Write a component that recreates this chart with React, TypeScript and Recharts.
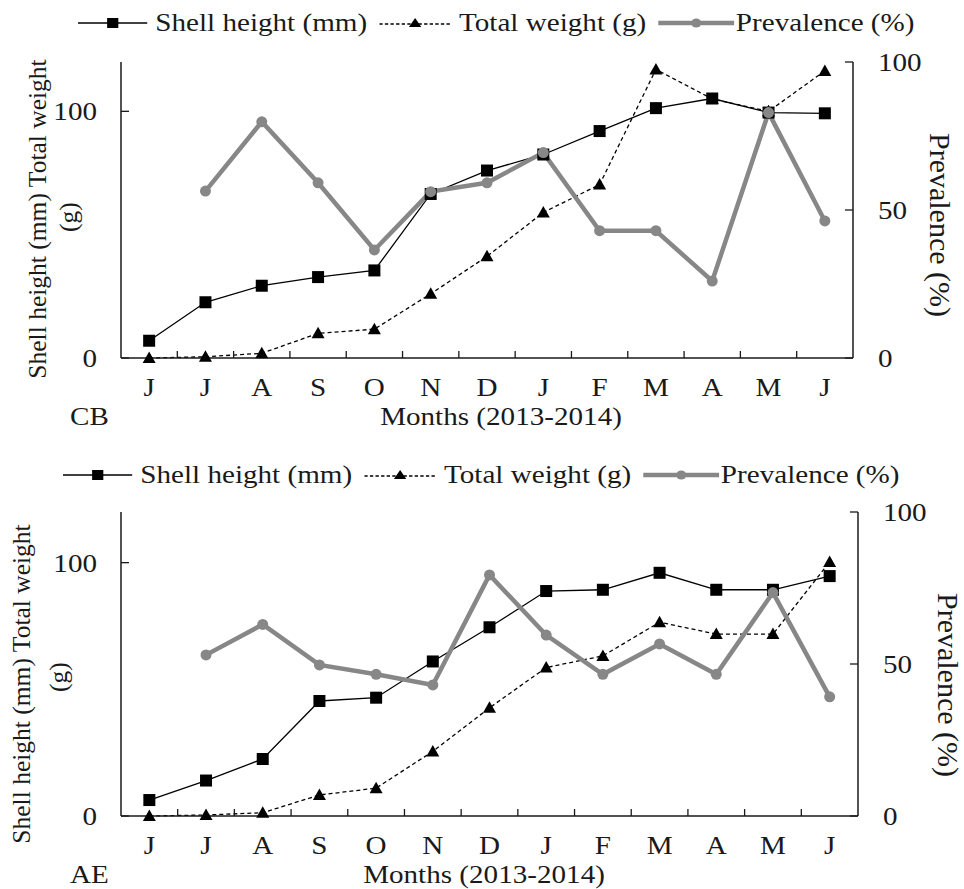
import { ComposedChart, Line, XAxis, YAxis, Label } from "recharts";

// months Jun 2013 .. Jun 2014
const MONTHS = ["J", "J", "A", "S", "O", "N", "D", "J", "F", "M", "A", "M", "J"];

// CB site
const CB_SHELL = [7, 22.6, 29.3, 32.8, 35.5, 66.5, 76, 82.5, 92, 101.3, 105.2, 99.5, 99.2];
const CB_WEIGHT = [0, 0.5, 1.9, 10, 11.7, 26, 41.2, 59, 70.3, 117, 105, 100, 116.4];
const CB_PREV = [null, 56.4, 79.8, 59.2, 36.5, 56.2, 59.2, 69.4, 43, 43, 26, 82.9, 46.3];

// AE site
const AE_SHELL = [6.3, 14, 22.5, 45.4, 46.7, 61, 74.5, 88.8, 89.3, 96, 89.3, 89.3, 94.7];
const AE_WEIGHT = [0, 0.4, 1.3, 8.3, 11, 25.5, 42.7, 58.6, 63.2, 76.5, 71.8, 71.8, 100.3];
const AE_PREV = [null, 53, 63, 49.7, 46.6, 43.1, 79.3, 59.5, 46.6, 56.6, 46.6, 73.5, 39.2];

const LEFT_TICKS = [0, 100];
const RIGHT_TICKS = [0, 50, 100];

const SERIF = '"Liberation Serif", "Times New Roman", serif';
const INK = "#1a1a1a";
const GREY = "#878787";
const SX = 1.12; // the original figure is a bit stretched sideways

function squareDot(p: any) {
  const { cx, cy, index } = p;
  if (cx == null || cy == null) return <g key={`s${index}`} />;
  return <rect key={`s${index}`} x={cx - 6} y={cy - 6} width={12} height={12} fill="#000" />;
}

function triangleDot(p: any) {
  const { cx, cy, index } = p;
  if (cx == null || cy == null) return <g key={`t${index}`} />;
  return (
    <path
      key={`t${index}`}
      d={`M${cx},${cy - 6.5} L${cx + 6.5},${cy + 5} L${cx - 6.5},${cy + 5} Z`}
      fill="#000"
    />
  );
}

function circleDot(p: any) {
  const { cx, cy, index } = p;
  if (cx == null || cy == null) return <g key={`c${index}`} />;
  return <circle key={`c${index}`} cx={cx} cy={cy} r={5.5} fill={GREY} />;
}

function MonthTick(props: any) {
  const { x, y, payload, index } = props;
  const half = payload?.offset || 28;
  return (
    <g>
      {index > 0 && (
        <line x1={x - half} x2={x - half} y1={y} y2={y - 7} stroke={INK} strokeWidth={1.3} />
      )}
      <text
        transform={`translate(${x},${y + 38}) scale(${SX},1)`}
        textAnchor="middle"
        fontSize={26}
        fontFamily={SERIF}
        fill={INK}
      >
        {MONTHS[payload.value]}
      </text>
    </g>
  );
}

function LeftTick(props: any) {
  const { x, y, payload } = props;
  return (
    <g>
      <line x1={x} x2={x + 8} y1={y} y2={y} stroke={INK} strokeWidth={1.3} />
      <text
        transform={`translate(${x - 24},${y + 9}) scale(${SX},1)`}
        textAnchor="end"
        fontSize={26}
        fontFamily={SERIF}
        fill={INK}
      >
        {payload.value}
      </text>
    </g>
  );
}

function RightTick(props: any) {
  const { x, y, payload } = props;
  return (
    <g>
      <line x1={x - 8} x2={x} y1={y} y2={y} stroke={INK} strokeWidth={1.3} />
      <text
        transform={`translate(${x + 25},${y + 9}) scale(${SX},1)`}
        textAnchor="start"
        fontSize={26}
        fontFamily={SERIF}
        fill={INK}
      >
        {payload.value}
      </text>
    </g>
  );
}

function ChartLegend({ left, top }: { left: number; top: number }) {
  const text = { marginLeft: 7, marginRight: 11 };
  return (
    <div
      style={{
        position: "absolute",
        left,
        top,
        display: "flex",
        alignItems: "center",
        fontFamily: SERIF,
        fontSize: 26,
        lineHeight: "30px",
        color: INK,
        whiteSpace: "nowrap",
        transform: `scaleX(${SX})`,
        transformOrigin: "left center",
      }}
    >
      <svg width={62} height={20}>
        <line x1={0} x2={62} y1={10} y2={10} stroke="#000" strokeWidth={1.5} />
        <rect x={26} y={5} width={10} height={10} fill="#000" />
      </svg>
      <span style={text}>Shell height (mm)</span>
      <svg width={64} height={20}>
        <line x1={0} x2={64} y1={11} y2={11} stroke="#000" strokeWidth={1.3} strokeDasharray="3 2" />
        <path d="M32,5 L37.5,14 L26.5,14 Z" fill="#000" />
      </svg>
      <span style={text}>Total weight (g)</span>
      <svg width={68} height={20}>
        <line x1={0} x2={68} y1={10} y2={10} stroke={GREY} strokeWidth={4.5} />
        <circle cx={34} cy={10} r={4.5} fill={GREY} />
      </svg>
      <span style={{ marginLeft: 1 }}>Prevalence (%)</span>
    </div>
  );
}

interface PanelCfg {
  site: string;
  shell: number[];
  weight: number[];
  prev: (number | null)[];
  top: number;
  right: number;
  bottom: number;
  legendLeft: number;
  legendTop: number;
  monthsX: number;
  left1: [number, number];
  left2: [number, number];
  rightTitle: [number, number];
}

function Panel({ cfg }: { cfg: PanelCfg }) {
  const rows = MONTHS.map((m, i) => ({
    idx: i,
    month: m,
    shell: cfg.shell[i],
    weight: cfg.weight[i],
    prev: cfg.prev[i],
  }));
  const axisLine = { stroke: INK, strokeWidth: 1.5 };

  return (
    <div style={{ position: "absolute", left: 0, top: cfg.top, width: 964, height: 440 }}>
      <ComposedChart
        width={964}
        height={440}
        data={rows}
        margin={{ top: 62, right: cfg.right, bottom: cfg.bottom, left: 61 }}
      >
        <XAxis
          dataKey="idx"
          type="category"
          scale="band"
          height={30}
          interval={0}
          tickLine={false}
          tickSize={0}
          tickMargin={0}
          axisLine={axisLine}
          tick={(p: any) => <MonthTick {...p} />}
        >
          <Label
            content={(p: any) => {
              const base = (p.viewBox?.y ?? 0) + 67;
              return (
                <g fontFamily={SERIF} fontSize={26} fill={INK}>
                  <text transform={`translate(70,${base}) scale(${SX},1)`}>{cfg.site}</text>
                  <text transform={`translate(${cfg.monthsX},${base}) scale(${SX},1)`} textAnchor="middle">
                    Months (2013-2014)
                  </text>
                </g>
              );
            }}
          />
        </XAxis>
        <YAxis
          yAxisId="left"
          orientation="left"
          width={60}
          domain={[0, 120]}
          ticks={LEFT_TICKS}
          interval={0}
          tickLine={false}
          tickSize={0}
          tickMargin={0}
          axisLine={axisLine}
          tick={(p: any) => <LeftTick {...p} />}
        >
          <Label
            content={() => (
              <g fontFamily={SERIF} fontSize={25.5} fill={INK} textAnchor="middle">
                <text
                  x={cfg.left1[0]}
                  y={cfg.left1[1]}
                  transform={`rotate(-90 ${cfg.left1[0]} ${cfg.left1[1]})`}
                >
                  Shell height (mm) Total weight
                </text>
                <text
                  x={cfg.left2[0]}
                  y={cfg.left2[1]}
                  transform={`rotate(-90 ${cfg.left2[0]} ${cfg.left2[1]})`}
                >
                  (g)
                </text>
              </g>
            )}
          />
        </YAxis>
        <YAxis
          yAxisId="right"
          orientation="right"
          width={60}
          domain={[0, 100]}
          ticks={RIGHT_TICKS}
          interval={0}
          tickLine={false}
          tickSize={0}
          tickMargin={0}
          axisLine={axisLine}
          tick={(p: any) => <RightTick {...p} />}
        >
          <Label
            content={() => (
              <text
                x={cfg.rightTitle[0]}
                y={cfg.rightTitle[1]}
                transform={`rotate(90 ${cfg.rightTitle[0]} ${cfg.rightTitle[1]})`}
                textAnchor="middle"
                fontFamily={SERIF}
                fontSize={30}
                fill={INK}
              >
                Prevalence (%)
              </text>
            )}
          />
        </YAxis>
        <Line
          yAxisId="left"
          dataKey="weight"
          stroke="#000"
          strokeWidth={1.3}
          strokeDasharray="4 3"
          dot={triangleDot}
          activeDot={false}
          isAnimationActive={false}
        />
        <Line
          yAxisId="left"
          dataKey="shell"
          stroke="#000"
          strokeWidth={1.3}
          dot={squareDot}
          activeDot={false}
          isAnimationActive={false}
        />
        <Line
          yAxisId="right"
          dataKey="prev"
          stroke={GREY}
          strokeWidth={4.5}
          dot={circleDot}
          activeDot={false}
          isAnimationActive={false}
        />
      </ComposedChart>
      <ChartLegend left={cfg.legendLeft} top={cfg.legendTop} />
    </div>
  );
}

const PANELS: PanelCfg[] = [
  {
    site: "CB",
    shell: CB_SHELL,
    weight: CB_WEIGHT,
    prev: CB_PREV,
    top: 0,
    right: 51,
    bottom: 52,
    legendLeft: 78,
    legendTop: 8,
    monthsX: 501,
    left1: [46, 219],
    left2: [77, 217],
    rightTitle: [930, 225],
  },
  {
    site: "AE",
    shell: AE_SHELL,
    weight: AE_WEIGHT,
    prev: AE_PREV,
    top: 450,
    right: 46,
    bottom: 44,
    legendLeft: 63,
    legendTop: 10,
    monthsX: 484,
    left1: [30, 234],
    left2: [67, 227],
    rightTitle: [938, 235],
  },
];

export default function App() {
  return (
    <div
      style={{
        position: "absolute",
        left: 0,
        top: 0,
        width: 964,
        height: 889,
        overflow: "hidden",
        background: "#fff",
      }}
    >
      {PANELS.map((cfg) => (
        <Panel key={cfg.site} cfg={cfg} />
      ))}
    </div>
  );
}
